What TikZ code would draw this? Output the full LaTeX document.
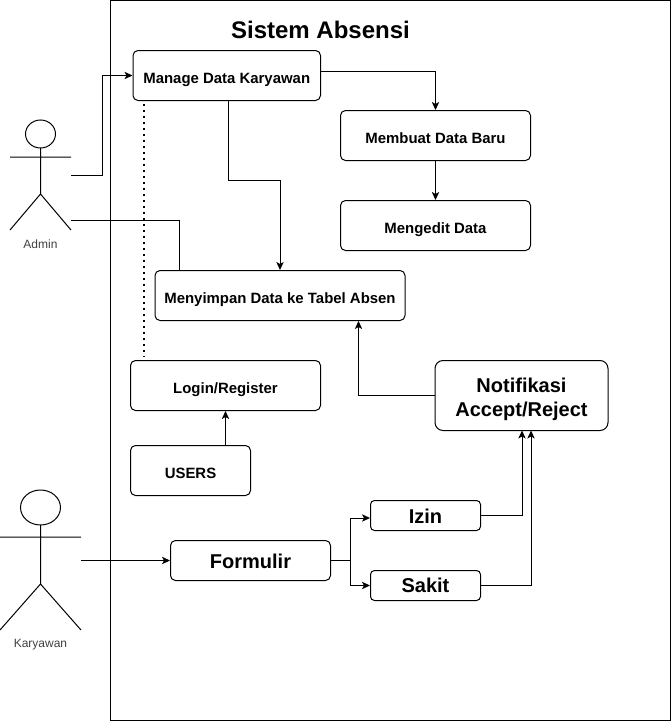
\documentclass[tikz,border=0pt]{standalone}
\usepackage{fontspec}
\setmainfont{Liberation Sans}
\usetikzlibrary{arrows.meta}
\tikzset{
    box/.style 2 args={draw, rounded corners=5pt*0.75, inner sep=0pt, align=center,
        minimum width=#1*0.75pt, minimum height=#2*0.75pt, line width=0.75pt},
    smalltext/.style={font=\fontsize{11.2pt}{13pt}\selectfont\bfseries, text height=12.5pt, text depth=0pt},
    bigtext/.style={font=\fontsize{15pt}{18pt}\selectfont\bfseries},
    actortext/.style={font=\fontsize{9pt}{11pt}\selectfont, text=black!75},
    flow/.style={-{Stealth[length=6pt,width=5.5pt,inset=1.5pt]}, line width=0.75pt},
    plain/.style={line width=0.75pt}
}
\begin{document}
\begin{tikzpicture}[x=0.75pt,y=-0.75pt]
    \useasboundingbox (0,0) rectangle (671,721);

    % Frame and title
    \draw[plain] (110.5,0.5) rectangle (670,720);
    \node[font=\fontsize{18pt}{22pt}\selectfont\bfseries] (title) at (320.5,30) {Sistem Absensi};

    % Boxes
    \node[box={187.5}{50}, smalltext] (manage) at (226.75,75.5) {Manage Data Karyawan};
    \node[box={190}{50}, smalltext] (baru) at (435.5,135.5) {Membuat Data Baru};
    \node[box={190}{50}, smalltext] (edit) at (435.5,225.5) {Mengedit Data};
    \node[box={250}{50}, smalltext] (simpan) at (280,295.5) {Menyimpan Data ke Tabel Absen};
    \node[box={190}{50}, smalltext] (login) at (225.5,385.5) {Login/Register};
    \node[box={120}{50}, smalltext] (users) at (190.5,470.5) {USERS};
    \node[box={173}{70}, bigtext, rounded corners=6pt] (notif) at (521.5,395.5) {\rule{0pt}{16pt}Notifikasi\\Accept/Reject};
    \node[box={160}{40}, bigtext, text height=12pt, text depth=0pt] (formulir) at (250.5,560.5) {Formulir};
    \node[box={110}{30}, bigtext, rounded corners=3pt, text height=12pt, text depth=0pt] (izin) at (425.5,515.5) {Izin};
    \node[box={110}{30}, bigtext, rounded corners=3pt] (sakit) at (425.5,585.5) {Sakit};

    % Actors
    \draw[plain] (40.5,134) ellipse (15 and 14);
    \draw[plain] (40.5,148) -- (40.5,194) (10,157) -- (71,157) (10,230) -- (40.5,194) -- (71,230);
    \node[actortext] (adminlabel) at (40.5,244.5) {Admin};
    \draw[plain] (40.5,507.5) ellipse (20 and 17.5);
    \draw[plain] (40.5,525) -- (40.5,584) (0,537) -- (81,537) (0,630) -- (40.5,584) -- (81,630);
    \node[actortext] (karyawanlabel) at (40.5,645) {Karyawan};

    % Connector points
    \coordinate (adminA) at (71,175);
    \coordinate (adminB) at (71,220.5);
    \coordinate (karyawanA) at (81,560.5);
    \coordinate (bendA) at (102,175);
    \coordinate (dotA) at (144,104);
    \coordinate (dotB) at (144,357);
    \coordinate (bendB) at (179.5,220.5);
    \coordinate (bendC) at (280,180.5);
    \coordinate (bendD) at (358.5,395.5);
    \coordinate (bendE) at (350.5,560.5);
    \coordinate (manageOut) at (320.5,71.5);
    \coordinate (manageDown) at (228.5,100.5);
    \coordinate (izinIn) at (370,518);
    \coordinate (izinUp) at (522,430.5);
    \coordinate (sakitUp) at (531,430.5);

    % Edges
    \draw[flow] (adminA) -- (bendA) -- (bendA |- manage.west) -- (manage.west);
    \draw[plain] (adminB) -- (bendB) -- (bendB |- simpan.north);
    \draw[flow] (manageDown) -- (manageDown |- bendC) -- (bendC) -- (simpan.north);
    \draw[flow] (manageOut) -- (baru.north |- manageOut) -- (baru.north);
    \draw[flow] (baru.south) -- (edit.north);
    \draw[flow] (users.north -| login.south) -- (login.south);
    \draw[flow] (notif.west) -- (bendD) -- (bendD |- simpan.south);
    \draw[flow] (karyawanA) -- (formulir.west);
    \draw[flow] (formulir.east) -- (bendE) -- (bendE |- izinIn) -- (izinIn);
    \draw[flow] (bendE) -- (bendE |- sakit.west) -- (sakit.west);
    \draw[flow] (izin.east) -- (izin.east -| izinUp) -- (izinUp);
    \draw[flow] (sakit.east) -- (sakit.east -| sakitUp) -- (sakitUp);
    \draw[line width=1.5pt, dash pattern=on 1.5pt off 3pt] (dotA) -- (dotB);
\end{tikzpicture}
\end{document}
